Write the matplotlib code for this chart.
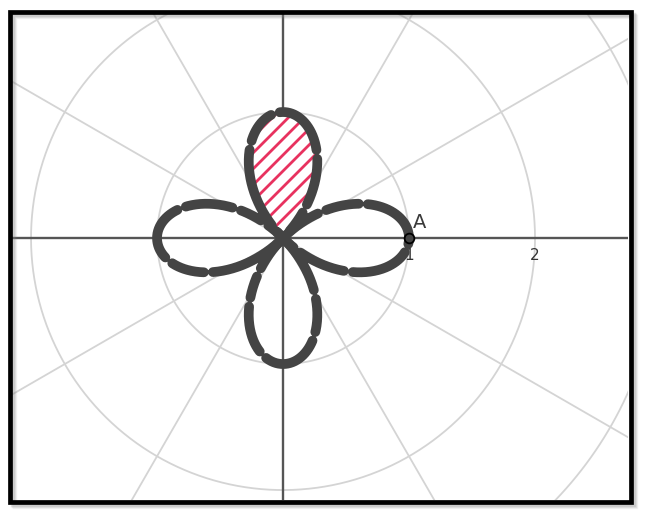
import numpy as np
import matplotlib.pyplot as plt
from matplotlib.patches import Rectangle, Polygon

# Rose curve r = amplitude * cos(petal_k * theta)
amplitude = 1.0
petal_k = 2

# Polar grid
grid_radii = [1, 2, 3, 4]
spoke_angles_deg = [0, 30, 60, 90, 120, 150, 180, 210, 240, 270, 300, 330]

# Axis tick labels on the x-axis
tick_values = [1, 2]
tick_labels = ['1', '2']

# Marked point
point_A = (1.0, 0.0)
point_A_label = 'A'

# Shaded petal: the one pointing up
shade_theta_start = np.pi / 4
shade_theta_end = 3 * np.pi / 4

# view window in data units
x_min, x_max = -2.151, 2.738
y_min, y_max = -2.079, 1.778

curve_color = '#444444'
grid_color = '#d4d4d4'
axis_color = '#555555'
hatch_color = '#e8325f'

plt.rcParams['lines.scale_dashes'] = False

fig = plt.figure(figsize=(6.45, 5.14), dpi=100)
fig.patch.set_facecolor('white')

W, H = 645, 514
ax = fig.add_axes([12 / W, 1 - 500 / H, (628 - 12) / W, (500 - 14) / H])
ax.set_xlim(x_min, x_max)
ax.set_ylim(y_min, y_max)
ax.axis('off')

# Grid circles and spokes
t = np.linspace(0, 2 * np.pi, 600)
for r in grid_radii:
    ax.plot(r * np.cos(t), r * np.sin(t), color=grid_color, lw=1.3, zorder=1)
rmax = max(grid_radii)
for a in spoke_angles_deg:
    ang = np.deg2rad(a)
    ax.plot([0, rmax * np.cos(ang)], [0, rmax * np.sin(ang)], color=grid_color, lw=1.3, zorder=1)

# Main axes
ax.plot([x_min, x_max], [0, 0], color=axis_color, lw=1.7, zorder=2)
ax.plot([0, 0], [y_min, y_max], color=axis_color, lw=1.7, zorder=2)

for v, lab in zip(tick_values, tick_labels):
    ax.text(v, -0.135, lab, ha='center', va='center', fontsize=11, color='#333333', zorder=2)

# Hatched petal
th = np.linspace(shade_theta_start, shade_theta_end, 300)
rr = np.abs(amplitude * np.cos(petal_k * th))
petal = Polygon(np.column_stack([rr * np.cos(th), rr * np.sin(th)]), closed=True,
                facecolor='white', edgecolor='none', zorder=3)
ax.add_patch(petal)
for c in np.arange(-1.5, 1.5, 0.127):
    ln, = ax.plot([-2, 2], [-2 + c, 2 + c], color=hatch_color, lw=2.0, zorder=4)
    ln.set_clip_path(petal)

# The rose curve, drawn as a thick broken stroke
theta = np.linspace(0, 2 * np.pi, 2000)
r = amplitude * np.cos(petal_k * theta)
line, = ax.plot(r * np.cos(theta), r * np.sin(theta), color=curve_color, lw=7,
                dash_capstyle='round', solid_capstyle='round', zorder=5)
line.set_dashes((42, 6.5, 24, 6.5, 58, 6.5, 16, 6.5, 34, 6.5))

# Point A
ax.plot(*point_A, marker='o', markersize=7, markerfacecolor='#444444',
        markeredgecolor='black', markeredgewidth=1.3, zorder=6)
ax.text(point_A[0] + 0.03, point_A[1] + 0.08, point_A_label, ha='left', va='baseline',
        fontsize=14, color='#3a3a3a', zorder=6)

# Frame with a soft shadow
for off, alpha in [(5, 0.10), (4, 0.15), (3, 0.22)]:
    fig.add_artist(Rectangle((9.5 / W + off / W, 1 - 501.5 / H - off / H),
                             (630.5 - 9.5) / W, (501.5 - 12) / H,
                             transform=fig.transFigure, fill=False,
                             edgecolor='gray', lw=3.2, alpha=alpha))
fig.add_artist(Rectangle((9.5 / W, 1 - 501.5 / H), (630.5 - 9.5) / W, (501.5 - 12) / H,
                         transform=fig.transFigure, fill=False, edgecolor='black', lw=3.4))

fig.savefig('out.png', dpi=100)
